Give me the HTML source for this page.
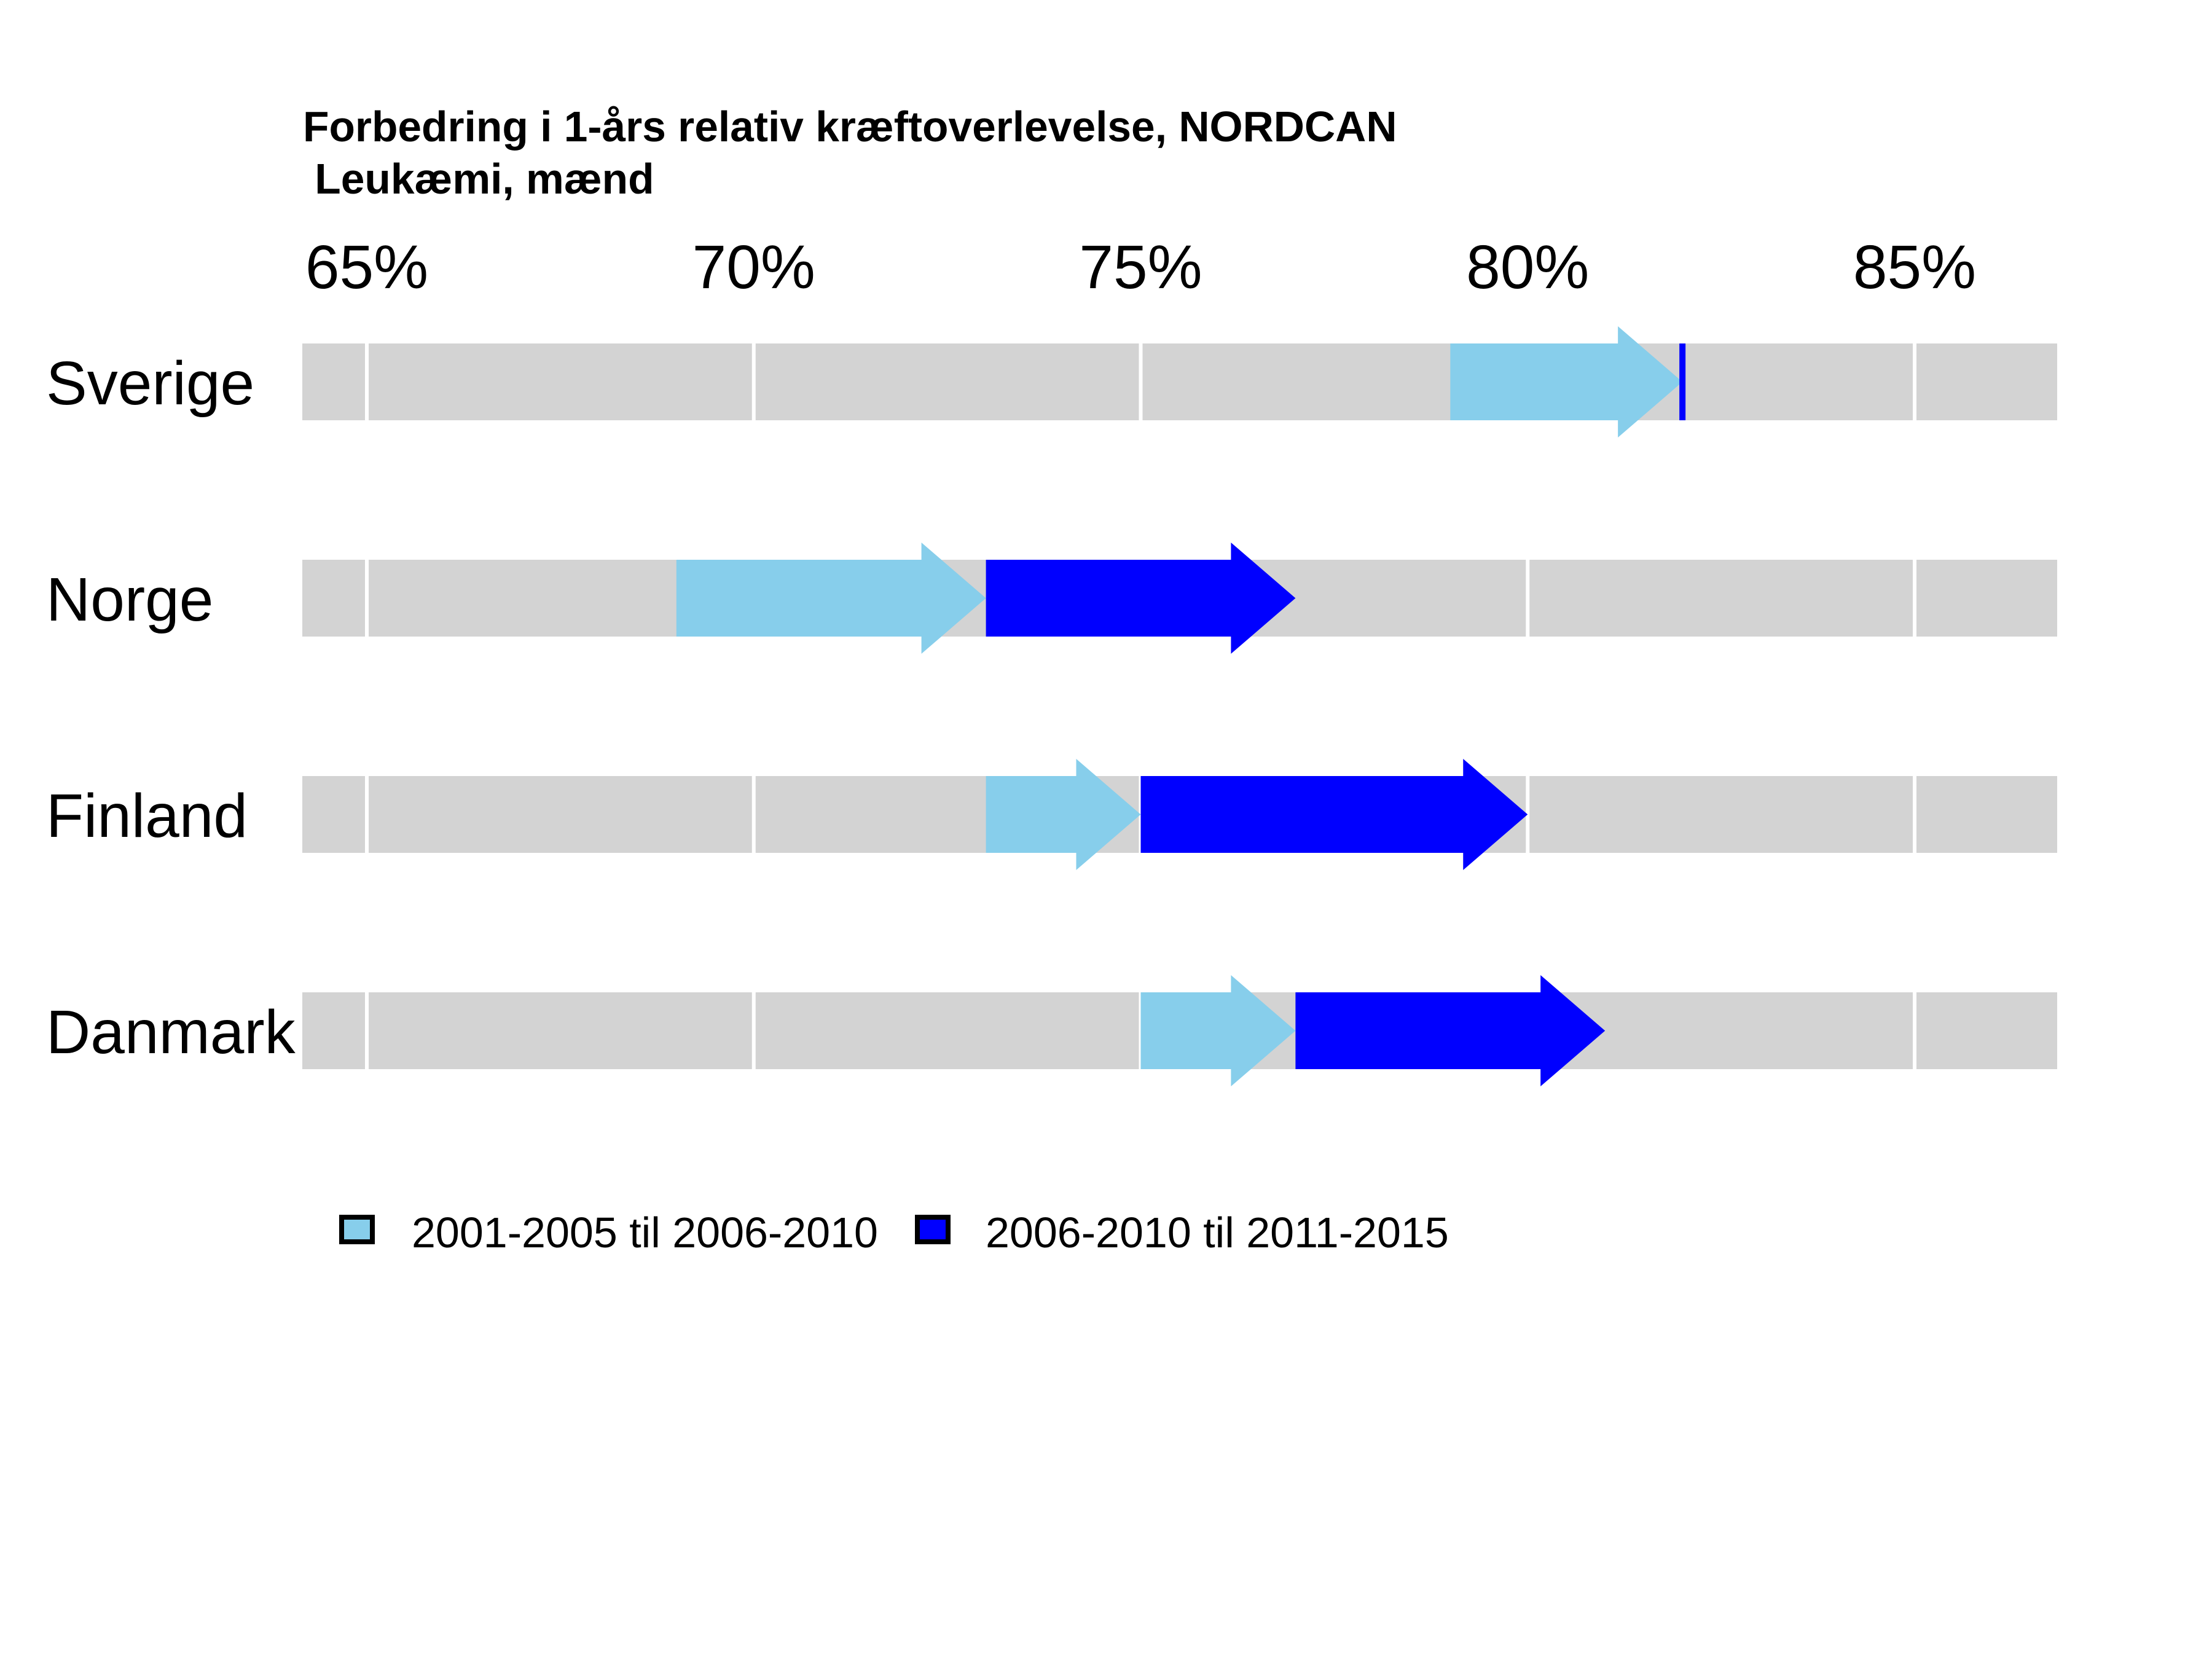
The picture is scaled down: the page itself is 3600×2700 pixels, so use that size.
<!DOCTYPE html>
<html><head><meta charset="utf-8"><style>
html,body{margin:0;padding:0;background:#fff;}
svg{display:block;font-family:"Liberation Sans",sans-serif;}
</style></head><body>
<svg id="chart" width="3600" height="2700" viewBox="0 0 3600 2700" xmlns="http://www.w3.org/2000/svg">
<text x="493" y="230" font-size="69.5" font-weight="bold">Forbedring i 1-års relativ kræftoverlevelse, NORDCAN</text>
<text x="493" y="315" font-size="69.5" font-weight="bold" xml:space="preserve"> Leukæmi, mænd</text>
<g id="ticks"></g>
<g id="rows"></g>
<g>
<rect x="556" y="1981" width="50" height="40" fill="#87CEEB" stroke="#000" stroke-width="8"/>
<text x="670" y="2051" font-size="70" dy="-21">2001-2005 til 2006-2010</text>
<rect x="1493" y="1981" width="50" height="40" fill="#0000FF" stroke="#000" stroke-width="8"/>
<text x="1604" y="2051" font-size="70" dy="-21">2006-2010 til 2011-2015</text>
</g>
</svg>
<script>
const countries = ["Sverige", "Norge", "Finland", "Danmark"];
const start1 = [79.0, 69.0, 73.0, 75.0];
const end1 = [82.0, 73.0, 75.0, 77.0];
const end2 = [82.0, 77.0, 80.0, 81.0];
const tickValues = [65, 70, 75, 80, 85];
const tickLabels = ["65%", "70%", "75%", "80%", "85%"];

const NS = "http://www.w3.org/2000/svg";
const panelL = 492, panelR = 3348;
function xs(v){ return 597 + (v - 65) * 125.95; }
function ys(i){ return 621.5 + i * 352; }
const barH = 62.5, headH = 90.5, headL = 105;
const ticksG = document.getElementById('ticks');
const rowsG = document.getElementById('rows');

tickValues.forEach((t, k) => {
  const tx = document.createElementNS(NS, 'text');
  tx.setAttribute('x', xs(t)); tx.setAttribute('y', 469);
  tx.setAttribute('font-size', 100); tx.setAttribute('text-anchor', 'middle');
  tx.textContent = tickLabels[k];
  
  
  ticksG.appendChild(tx);
});

function arrow(x0, x1, cy, color, name){
  if (x1 - x0 < 1) {
    const r = document.createElementNS(NS, 'rect');
    r.setAttribute('x', x0 - 5); r.setAttribute('y', cy - barH);
    r.setAttribute('width', 10); r.setAttribute('height', 2 * barH);
    r.setAttribute('fill', color);
    
    
    rowsG.appendChild(r);
    return;
  }
  const hb = Math.max(x0, x1 - headL);
  const p = document.createElementNS(NS, 'polygon');
  p.setAttribute('points', [
    [x0, cy - barH], [hb, cy - barH], [hb, cy - headH], [x1, cy],
    [hb, cy + headH], [hb, cy + barH], [x0, cy + barH]
  ].map(a => a.join(',')).join(' '));
  p.setAttribute('fill', color);
  
  
  rowsG.appendChild(p);
}

countries.forEach((c, i) => {
  const cy = ys(i);
  const bg = document.createElementNS(NS, 'rect');
  bg.setAttribute('x', panelL); bg.setAttribute('y', cy - barH);
  bg.setAttribute('width', panelR - panelL); bg.setAttribute('height', 2 * barH);
  bg.setAttribute('fill', '#D3D3D3');
  
  
  rowsG.appendChild(bg);
  tickValues.forEach(t => {
    const g = document.createElementNS(NS, 'rect');
    g.setAttribute('x', xs(t) - 3); g.setAttribute('y', cy - barH);
    g.setAttribute('width', 6); g.setAttribute('height', 2 * barH);
    g.setAttribute('fill', '#fff');
    
    
    rowsG.appendChild(g);
  });
  const lb = document.createElementNS(NS, 'text');
  lb.setAttribute('x', 75); lb.setAttribute('y', cy + 36.5);
  lb.setAttribute('font-size', 100);
  lb.textContent = c;
  
  
  rowsG.appendChild(lb);
});
countries.forEach((c, i) => {
  arrow(xs(start1[i]), xs(end1[i]), ys(i), '#87CEEB', 'arrow-period-1');
});
countries.forEach((c, i) => {
  arrow(xs(end1[i]), xs(end2[i]), ys(i), '#0000FF', 'arrow-period-2');
});
</script>
</body></html>
